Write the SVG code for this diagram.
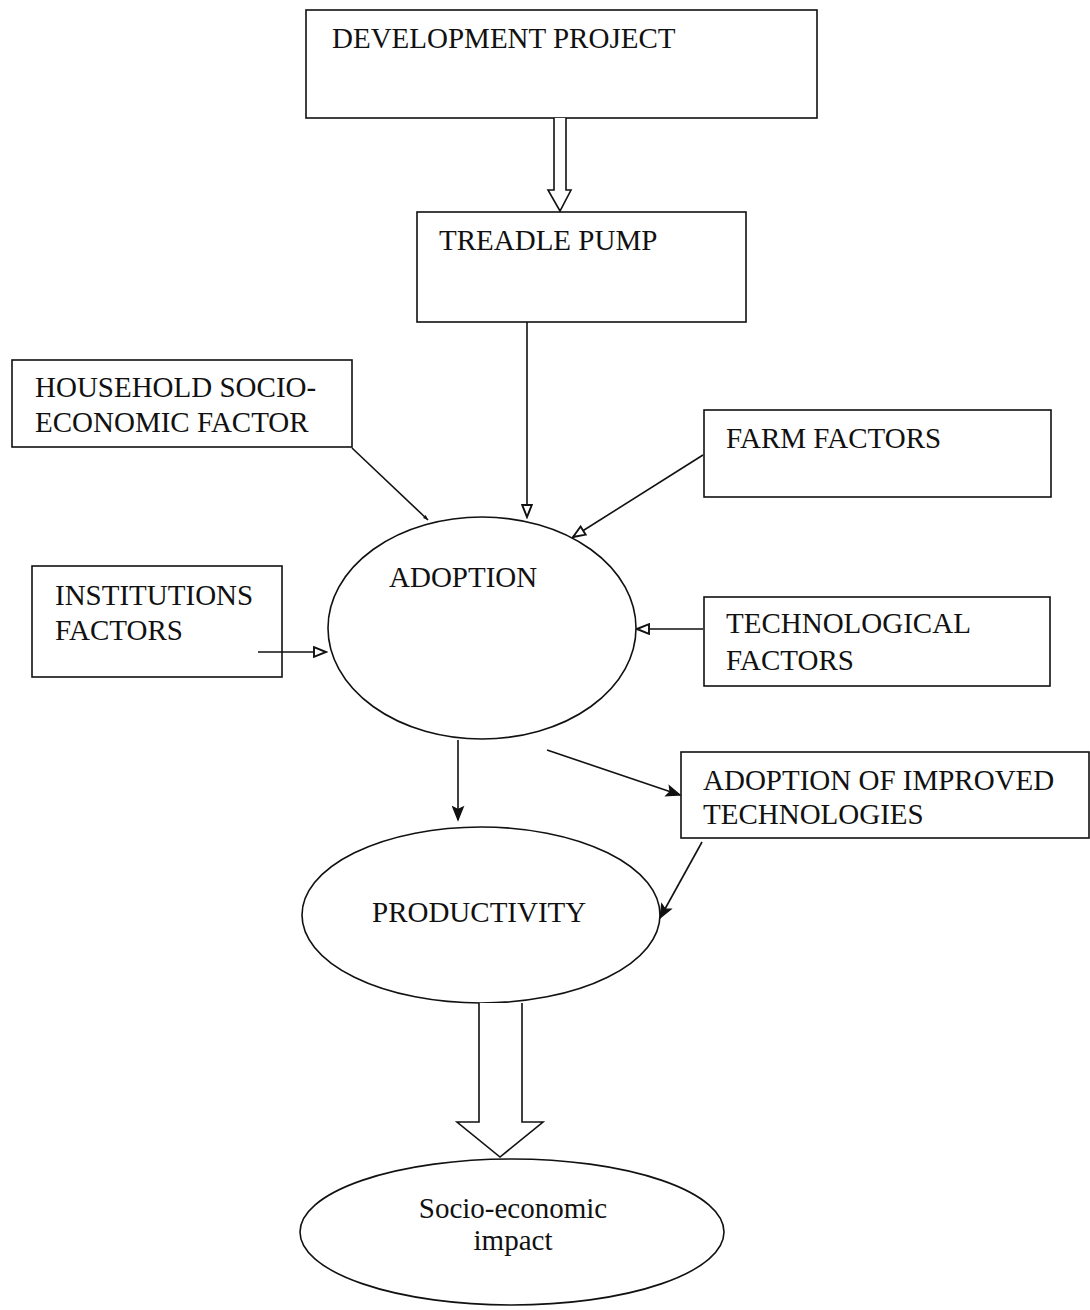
<svg xmlns="http://www.w3.org/2000/svg" width="1090" height="1310" viewBox="0 0 1090 1310">
<style>
.box{fill:#fff;stroke:#111;stroke-width:1.6}
.ell{fill:#fff;stroke:#111;stroke-width:1.6}
.lbl{font-family:"Liberation Serif","Times New Roman",serif;font-size:29px;fill:#111}
.con{fill:none;stroke:#111;stroke-width:1.6}
.fat{fill:#fff;stroke:#111;stroke-width:1.6;stroke-linejoin:miter}
</style>
<defs>
<marker id="hollow" viewBox="0 0 12 10" refX="11" refY="5" markerWidth="15" markerHeight="12" markerUnits="userSpaceOnUse" orient="auto">
<path d="M1,1 L11,5 L1,9 Z" fill="#fff" stroke="#111" stroke-width="1.6"/>
</marker>
<marker id="small" viewBox="0 0 12 10" refX="11" refY="5" markerWidth="6" markerHeight="5" markerUnits="userSpaceOnUse" orient="auto">
<path d="M1,1 L11,5 L1,9 Z" fill="#111"/>
</marker>
<marker id="solid" viewBox="0 0 12 10" refX="11" refY="5" markerWidth="17" markerHeight="13" markerUnits="userSpaceOnUse" orient="auto">
<path d="M1,1 L11,5 L1,9 L3,5 Z" fill="#111" stroke="#111" stroke-width="1"/>
</marker>
</defs>

<g id="development-project">
<rect class="box" x="306" y="10" width="511" height="108"/>
<text class="lbl" x="332" y="48">DEVELOPMENT PROJECT</text>
</g>

<g id="treadle-pump">
<rect class="box" x="417" y="212" width="329" height="110"/>
<text class="lbl" x="439" y="250">TREADLE PUMP</text>
</g>

<g id="household">
<rect class="box" x="12" y="360" width="340" height="87"/>
<text class="lbl" x="35" y="397">HOUSEHOLD SOCIO-</text>
<text class="lbl" x="35" y="432">ECONOMIC FACTOR</text>
</g>

<g id="farm-factors">
<rect class="box" x="704" y="410" width="347" height="87"/>
<text class="lbl" x="726" y="448">FARM FACTORS</text>
</g>

<g id="institutions">
<rect class="box" x="32" y="566" width="250" height="111"/>
<text class="lbl" x="55" y="605">INSTITUTIONS</text>
<text class="lbl" x="55" y="640">FACTORS</text>
</g>

<g id="technological">
<rect class="box" x="704" y="597" width="346" height="89"/>
<text class="lbl" x="726" y="633">TECHNOLOGICAL</text>
<text class="lbl" x="726" y="670">FACTORS</text>
</g>

<g id="adoption">
<ellipse class="ell" cx="482" cy="628" rx="154" ry="111"/>
<text class="lbl" x="389" y="587">ADOPTION</text>
</g>

<g id="improved-technologies">
<rect class="box" x="681" y="752" width="408" height="86"/>
<text class="lbl" x="703" y="790">ADOPTION OF IMPROVED</text>
<text class="lbl" x="703" y="824">TECHNOLOGIES</text>
</g>

<g id="productivity">
<ellipse class="ell" cx="481" cy="915" rx="179" ry="88"/>
<text class="lbl" x="372" y="922">PRODUCTIVITY</text>
</g>

<g id="socio-economic-impact">
<ellipse class="ell" cx="512" cy="1232" rx="212" ry="73"/>
<text class="lbl" x="513" y="1218" text-anchor="middle">Socio-economic</text>
<text class="lbl" x="513" y="1250" text-anchor="middle">impact</text>
</g>

<g id="connectors">
<path class="fat" d="M554,118 L554,190 L548,190 L560,211 L571,190 L566,190 L566,118"/>
<path class="con" d="M527,322 L527,517" marker-end="url(#hollow)"/>
<path class="con" d="M352,448 L428,520" marker-end="url(#small)"/>
<path class="con" d="M703,455 L573,537" marker-end="url(#hollow)"/>
<path class="con" d="M703,629 L637,629" marker-end="url(#hollow)"/>
<path class="con" d="M258,652 L326,652" marker-end="url(#hollow)"/>
<path class="con" d="M458,740 L458,820" marker-end="url(#solid)"/>
<path class="con" d="M547,750 L680,795" marker-end="url(#solid)"/>
<path class="con" d="M702,842 L660,918" marker-end="url(#solid)"/>
<path class="fat" d="M479,1003 L479,1122 L457,1122 L500,1157 L543,1122 L522,1122 L522,1003"/>
</g>
</svg>
